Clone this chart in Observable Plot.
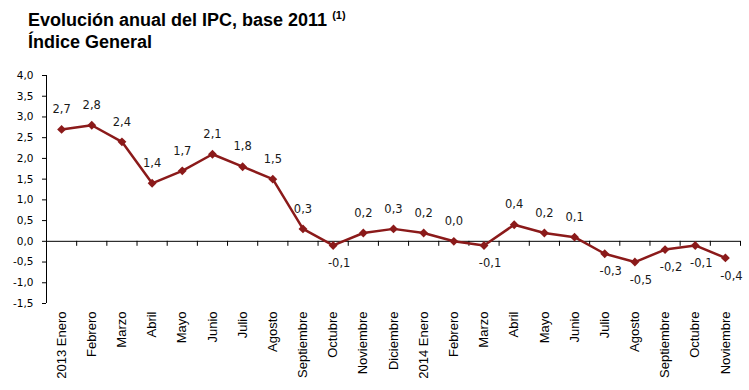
<!DOCTYPE html>
<html><head><meta charset="utf-8">
<script src="https://cdn.jsdelivr.net/npm/d3@7"></script>
<script src="https://cdn.jsdelivr.net/npm/@observablehq/plot@0.6"></script>
<style>
body{margin:0;background:#fff;}
#title{position:absolute;left:28px;top:10px;font:bold 18px "Liberation Sans",Arial,sans-serif;line-height:20px;color:#000;white-space:nowrap;}
#title .sup{font-size:11px;position:relative;top:-7px;}
#chart{position:absolute;left:0;top:55px;}
</style></head><body>
<div id="title">Evolución anual del IPC, base 2011 <span class="sup">(1)</span><br>Índice General</div>
<div id="chart"></div>
<script>
const months = ["2013 Enero","Febrero","Marzo","Abril","Mayo","Junio","Julio","Agosto","Septiembre","Octubre","Noviembre","Diciembre",
  "2014 Enero","Febrero","Marzo","Abril","Mayo","Junio","Julio","Agosto","Septiembre","Octubre","Noviembre"];
const values = [2.7,2.8,2.4,1.4,1.7,2.1,1.8,1.5,0.3,-0.1,0.2,0.3,
  0.2,0.0,-0.1,0.4,0.2,0.1,-0.3,-0.5,-0.2,-0.1,-0.4];
const yTicks = [-1.5,-1.0,-0.5,0.0,0.5,1.0,1.5,2.0,2.5,3.0,3.5,4.0];

const fmt = v => v.toFixed(1).replace(".", ",");
const data = months.map((m, i) => ({i, month: m, value: values[i]}));
const idx = d3.range(months.length);
const boundaries = d3.range(-0.5, months.length, 1);
const red = "#8b1a1a";

const chart = Plot.plot({
  width: 749, height: 335,
  marginTop: 20, marginBottom: 87, marginLeft: 46, marginRight: 9,
  x: {domain: [-0.5, months.length - 0.5]},
  y: {domain: [yTicks[0], yTicks[yTicks.length - 1]]},
  style: {fontFamily: "DejaVu Sans", fontSize: "11px", color: "#000", background: "white"},
  marks: [
    Plot.axisY({ticks: yTicks, tickFormat: fmt, tickSize: 4, tickPadding: 9, fontFamily: "DejaVu Sans", fontSize: 10.5, label: null}),
    Plot.axisX({ticks: idx, tickFormat: i => months[i], tickSize: 0, tickRotate: -90, tickPadding: 8, fontFamily: "Liberation Sans", fontSize: 13, label: null}),
    Plot.ruleX([-0.5], {y1: yTicks[0], y2: yTicks[yTicks.length - 1], stroke: "#000"}),
    Plot.ruleY([0], {stroke: "#000"}),
    Plot.ruleX(boundaries, {y1: 0, y2: 0, insetBottom: -5, stroke: "#000"}),
    Plot.line(data, {x: "i", y: "value", stroke: red, strokeWidth: 2.5}),
    Plot.dot(data, {x: "i", y: "value", symbol: "diamond2", r: 4, fill: red}),
    Plot.text(data.filter(d => d.value >= 0), {x: "i", y: "value", text: d => fmt(d.value), dy: -20, fill: "#1a1a1a", fontFamily: "DejaVu Sans", fontSize: 11.5}),
    Plot.text(data.filter(d => d.value < 0), {x: "i", y: "value", text: d => fmt(d.value), dy: 18, dx: 6, fill: "#1a1a1a", fontFamily: "DejaVu Sans", fontSize: 11.5})
  ]
});
document.getElementById("chart").appendChild(chart);
</script>
</body></html>
